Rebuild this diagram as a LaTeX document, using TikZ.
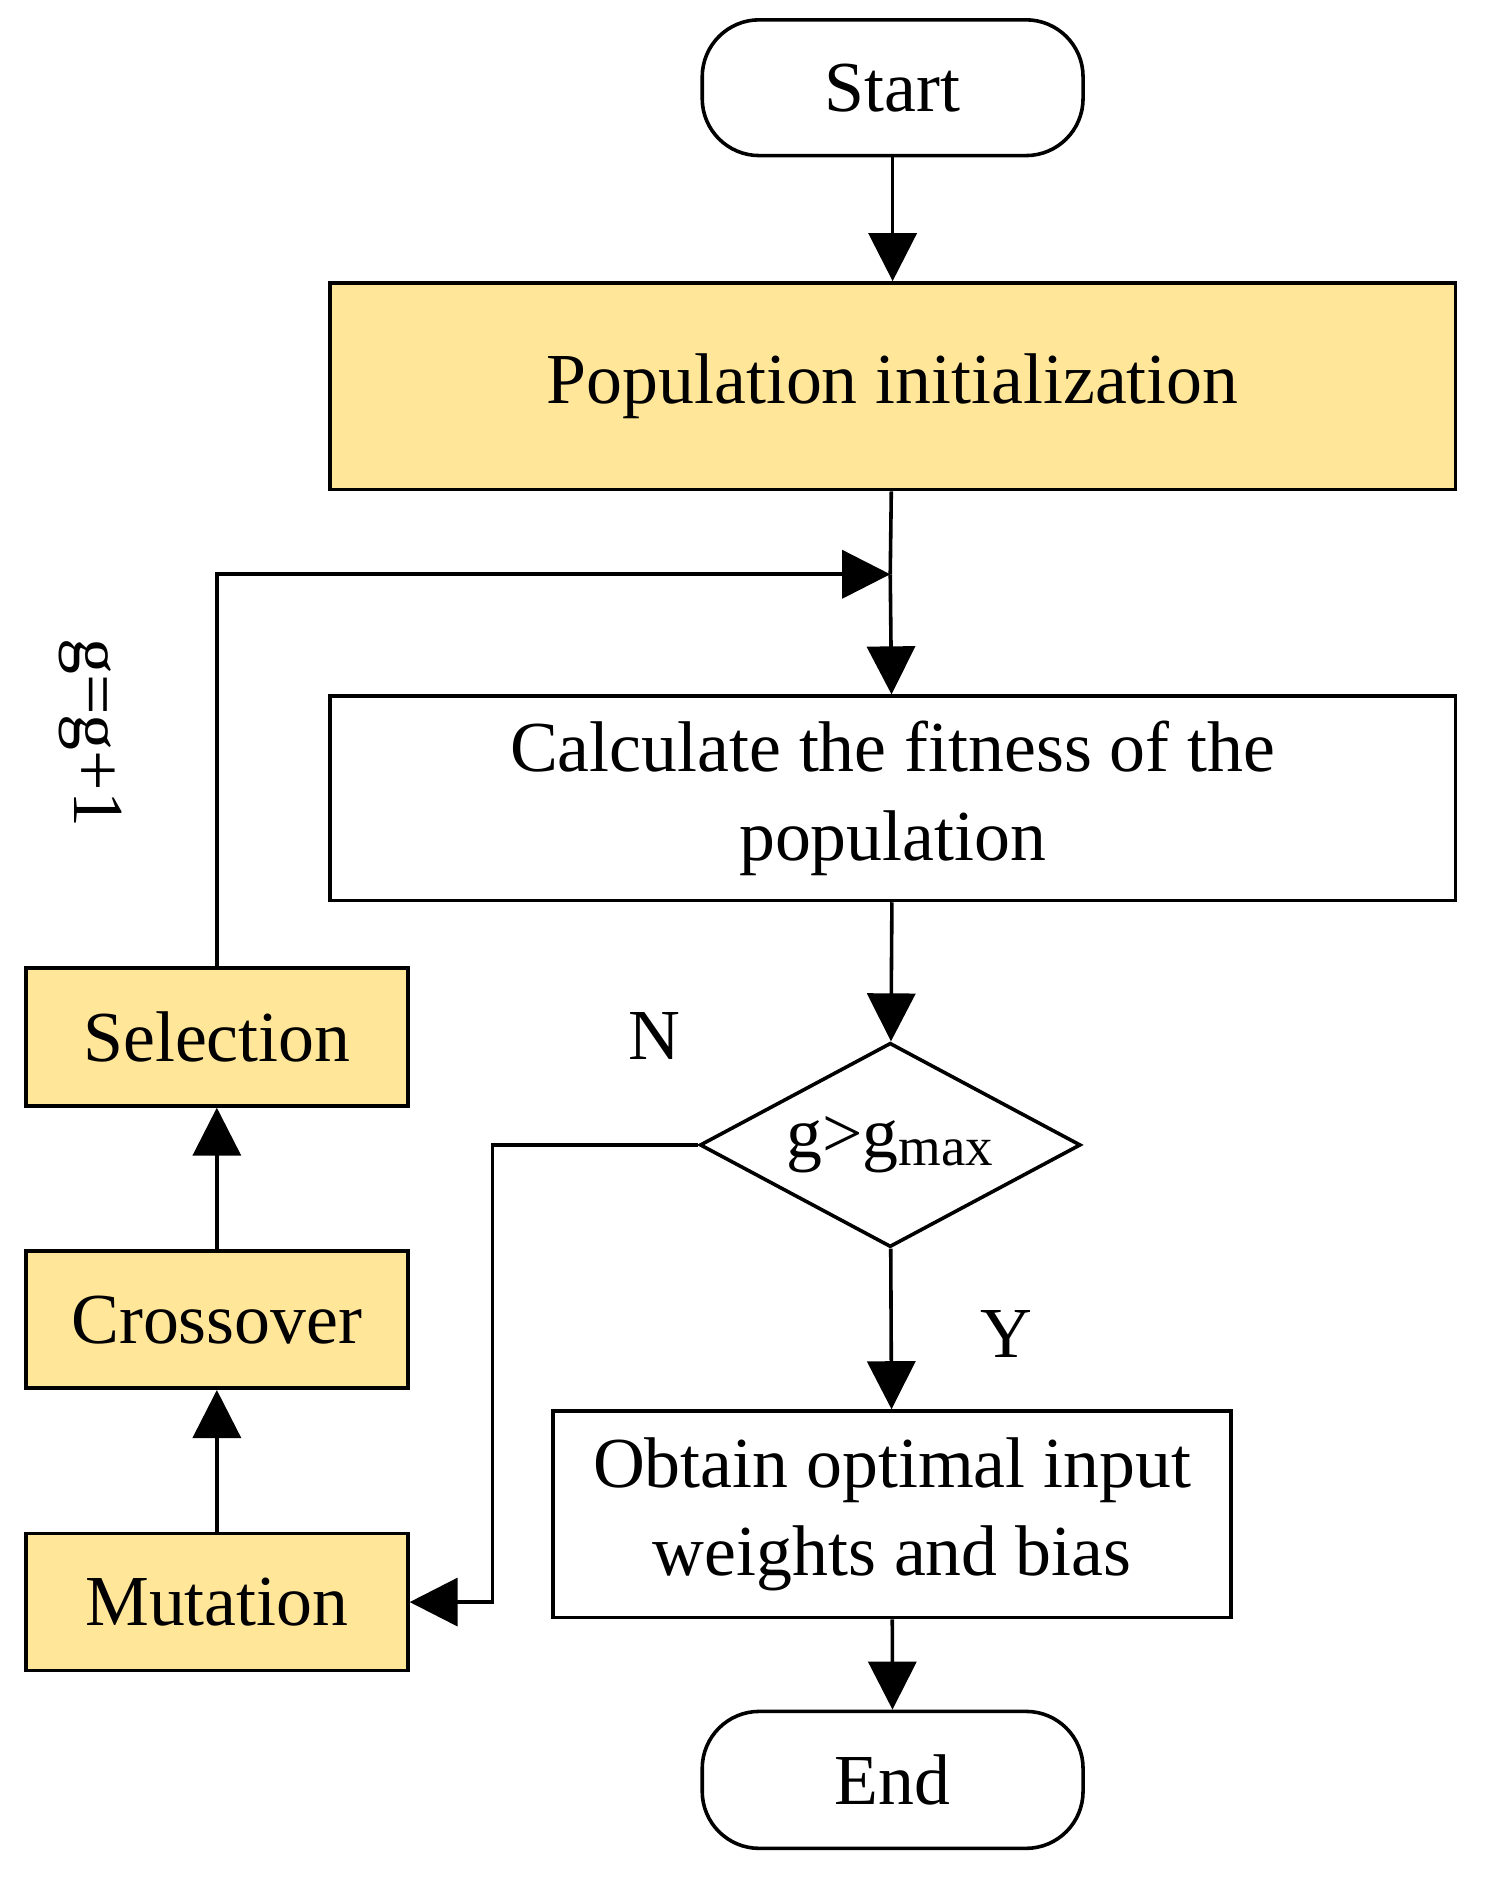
\documentclass[tikz,border=0pt]{standalone}
\usepackage{fontspec}
\setmainfont{Liberation Serif}
\usetikzlibrary{arrows.meta,shapes.geometric}
\definecolor{fillY}{HTML}{FFE699}
\begin{document}
\begin{tikzpicture}[x=0.02cm,y=-0.02cm,
  every node/.style={font=\fontsize{34}{42}\selectfont},
  box/.style={draw,line width=1.7pt,inner sep=0pt,anchor=north west},
  term/.style={box,rounded corners=0.95cm},
  line/.style={line width=1.7pt},
  arr/.style={line, -{Triangle[width=0.8cm,length=0.8cm]}}]
\useasboundingbox (0,0) rectangle (1240,1569);
\node[term,minimum width=317*0.02cm,minimum height=113*0.02cm] (start) at (583,15) {Start};
\node[box,fill=fillY,minimum width=937*0.02cm,minimum height=172*0.02cm] (pop) at (273,234) {Population initialization};
\node[box,minimum width=937*0.02cm,minimum height=170*0.02cm,align=center] (fit) at (273,578) {Calculate the fitness of the\\population};
\node[draw,line width=1.7pt,diamond,aspect=1.865,minimum width=317*0.02cm,minimum height=170*0.02cm,inner sep=0pt] (dec) at (741,953) {g>g\textsubscript{\fontsize{26}{30}\selectfont max}};
\node[box,minimum width=564*0.02cm,minimum height=172*0.02cm,align=center] (obt) at (459,1173) {Obtain optimal input\\weights and bias};
\node[term,minimum width=317*0.02cm,minimum height=114*0.02cm] (end) at (583,1423) {End};
\node[box,fill=fillY,minimum width=318*0.02cm,minimum height=115*0.02cm] (sel) at (20,804) {Selection};
\node[box,fill=fillY,minimum width=318*0.02cm,minimum height=114*0.02cm] (cro) at (20,1040) {Crossover};
\node[box,fill=fillY,minimum width=318*0.02cm,minimum height=114*0.02cm] (mut) at (20,1275) {Mutation};
\coordinate (j) at (741,478);
\coordinate (lc) at (410,953);
\node (N) at (545,862) {N};
\node (Y) at (838,1110) {Y};
\node[rotate=-90] (gg) at (75,610) {g=g+1};
\draw[arr] (start) -- (pop);
\draw[line] (pop) -- (j);
\draw[arr] (j) -- (fit);
\draw[arr] (fit) -- (dec);
\draw[arr] (dec) -- (obt);
\draw[arr] (obt) -- (end);
\draw[arr] (mut) -- (cro);
\draw[arr] (cro) -- (sel);
\draw[arr] (sel.north) |- (j);
\draw[arr] (dec.west) -- (lc) |- (mut.east);
\end{tikzpicture}
\end{document}
